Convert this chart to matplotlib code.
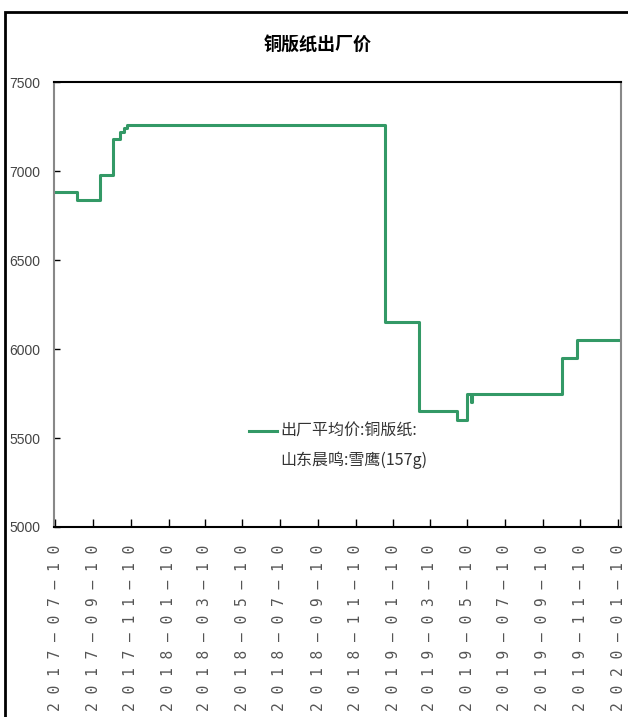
import matplotlib
matplotlib.use('Agg')
import matplotlib.pyplot as plt
import pandas as pd
from matplotlib.patches import Rectangle
from matplotlib.legend_handler import HandlerLine2D

plt.rcParams['font.family'] = ['Noto Sans CJK SC', 'DejaVu Sans']

# step change points of the price series
change_dates = ['2017-07-07', '2017-08-15', '2017-09-20', '2017-10-11', '2017-10-23',
                '2017-10-30', '2017-11-04', '2018-12-27', '2018-12-28', '2019-02-21',
                '2019-04-23', '2019-05-09', '2019-05-17', '2019-05-18', '2019-10-11',
                '2019-11-05', '2020-01-14']
prices = [6880, 6840, 6980, 7180, 7220, 7240, 7260, 6650, 6150, 5650,
          5600, 5750, 5700, 5750, 5950, 6050, 6050]

tick_dates = ['2017-07-10', '2017-09-10', '2017-11-10', '2018-01-10', '2018-03-10',
              '2018-05-10', '2018-07-10', '2018-09-10', '2018-11-10', '2019-01-10',
              '2019-03-10', '2019-05-10', '2019-07-10', '2019-09-10', '2019-11-10',
              '2020-01-10']
y_ticks = [5000, 5500, 6000, 6500, 7000, 7500]

title = '铜版纸出厂价'
legend_label = '出厂平均价:铜版纸:\n山东晨鸣:雪鹰(157g)'


class FirstLineHandler(HandlerLine2D):
    # put the legend line next to the first text line
    def create_artists(self, legend, orig_handle, xdescent, ydescent, width, height, fontsize, trans):
        arts = super().create_artists(legend, orig_handle, xdescent, ydescent, width, height, fontsize, trans)
        for a in arts:
            y = a.get_ydata()
            a.set_ydata([v + 11 for v in y])
        return arts


fig = plt.figure(figsize=(6.28, 7.17), dpi=100)
ax = fig.add_axes([0.086, 0.265, 0.903, 0.6205])

x = pd.to_datetime(change_dates)
line, = ax.plot(x, prices, drawstyle='steps-post', color='#339966', lw=2.2, label=legend_label)

ax.set_xlim(pd.Timestamp('2017-07-08'), pd.Timestamp('2020-01-15'))
ax.set_ylim(5000, 7500)

ax.set_yticks(y_ticks)
ax.set_yticklabels([str(v) for v in y_ticks], family='Liberation Sans',
                   fontsize=10, color='#444444')
ax.tick_params(axis='y', direction='in', length=4, width=1, pad=10)

xt = pd.to_datetime(tick_dates)
ax.set_xticks(xt)
ax.set_xticklabels([' '.join(d).replace('-', '—') for d in tick_dates], rotation=90,
                   family='DejaVu Sans Mono', fontsize=10.5, color='#555555')
ax.tick_params(axis='x', direction='in', length=6, width=1, pad=13)

for s in ['top', 'bottom']:
    ax.spines[s].set_color('black')
    ax.spines[s].set_linewidth(1.5)
for s in ['left', 'right']:
    ax.spines[s].set_color('#888888')
    ax.spines[s].set_linewidth(1.5)

leg = ax.legend(loc='upper left', bbox_to_anchor=(0.318, 0.268), frameon=False,
                handlelength=1.75, handletextpad=0.25,
                handler_map={line: FirstLineHandler()},
                prop={'family': ['Noto Sans CJK SC', 'DejaVu Sans'], 'size': 11.5})
for t in leg.get_texts():
    t.set_color('#333333')
    t.set_linespacing(1.9)

fig.text(0.506, 0.938, title, ha='center', va='center', fontsize=13, fontweight='bold')

# outer frame of the picture
fig.patches.append(Rectangle((5 / 628, -0.01), 1.0, 1 - 12 / 717 + 0.01,
                             transform=fig.transFigure, fill=False,
                             edgecolor='black', lw=2))

fig.savefig('out.png', dpi=100)
